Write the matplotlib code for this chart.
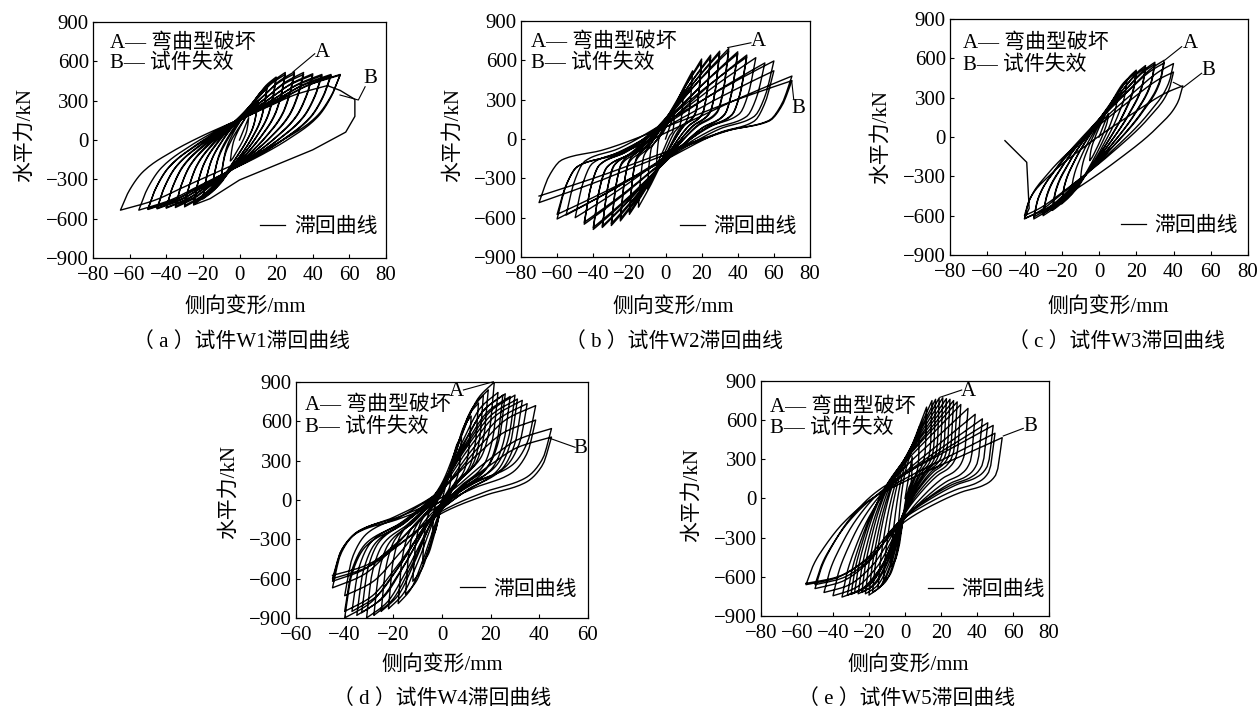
import numpy as np
import matplotlib
matplotlib.use("Agg")
import matplotlib.pyplot as plt
from matplotlib.lines import Line2D

plt.rcParams['font.family'] = ['Liberation Serif', 'Noto Sans CJK SC']
plt.rcParams['axes.unicode_minus'] = True

# ---------------- data (peak points of each cycle) ----------------
# W1
W1_pos_d = [5, 10, 10, 15, 15, 20, 20, 25, 25, 30, 30, 35, 35, 40, 40, 45, 45, 50, 50, 55, 55, 48]
W1_pos_f = [170, 300, 290, 410, 395, 480, 465, 515, 500, 520, 505, 515, 500, 505, 495, 500, 490, 500, 490, 500, 495, 415]
W1_neg_d = [-5, -10, -10, -15, -15, -20, -20, -25, -25, -30, -30, -35, -35, -40, -40, -45, -45, -50, -50, -55, -65]
W1_neg_f = [-160, -290, -280, -390, -380, -450, -440, -490, -480, -510, -500, -515, -505, -520, -515, -525, -520, -530, -525, -535, -535]
W1_tail_d = [55, 63, 63, 58, 40, 20, 0, -16, -25]
W1_tail_f = [378, 310, 180, 60, -75, -190, -305, -447, -495]

# W2
W2_pos_d = [5, 10, 15, 20, 20, 25, 25, 30, 30, 35, 35, 40, 40, 45, 45, 50, 55, 60, 60, 70, 70]
W2_pos_f = [200, 380, 520, 610, 590, 640, 625, 670, 655, 690, 670, 665, 650, 640, 625, 620, 580, 595, 520, 480, 445]
W2_neg_d = [-5, -10, -15, -20, -20, -25, -25, -30, -30, -35, -35, -40, -40, -45, -45, -50, -55, -60, -60, -70, -70]
W2_neg_f = [-200, -380, -520, -575, -560, -625, -610, -660, -645, -675, -665, -690, -675, -650, -635, -600, -580, -610, -575, -485, -435]
W2_tail_d = []
W2_tail_f = []

# W3
W3_pos_d = [5, 10, 15, 20, 20, 25, 25, 30, 30, 35, 35, 40, 40, 45]
W3_pos_f = [180, 330, 440, 510, 495, 545, 530, 570, 555, 585, 565, 560, 495, 390]
W3_neg_d = [-5, -10, -15, -20, -20, -25, -25, -30, -30, -35, -35, -40, -40, -40]
W3_neg_f = [-180, -330, -440, -510, -500, -560, -545, -600, -585, -625, -610, -625, -600, -620]
W3_tail_d = [-37.5, -38.8, -50.5]
W3_tail_f = [-545, -193, -28]

# W4
W4_pos_d = [4, 8, 12, 15, 17, 19, 21.5, 23, 25, 26, 28, 30, 31, 33, 35, 38.5, 38.5, 45, 45]
W4_pos_f = [280, 480, 640, 740, 800, 840, 900, 820, 800, 810, 790, 800, 770, 760, 735, 720, 610, 545, 480]
W4_neg_d = [-4, -8, -12, -15, -18, -22, -25, -28, -31, -33, -35, -37, -40, -40, -40, -45, -45, -45, -45]
W4_neg_f = [-280, -480, -620, -720, -790, -830, -850, -880, -900, -860, -880, -850, -900, -850, -730, -670, -620, -600, -575]
W4_tail_d = []
W4_tail_f = []

# W5
W5_pos_d = [4, 8, 12, 15, 17, 19, 21, 23, 25, 27, 29, 31, 35, 39, 43, 46, 49, 50, 54]
W5_pos_f = [320, 550, 700, 750, 760, 770, 772, 765, 760, 750, 740, 720, 690, 645, 610, 580, 560, 500, 466]
W5_neg_d = [-4, -8, -12, -15, -18, -20, -22, -24, -26, -28, -30, -32, -35, -40, -45, -50, -50, -55, -55]
W5_neg_f = [-300, -520, -640, -690, -720, -740, -730, -720, -730, -720, -735, -740, -755, -745, -720, -690, -660, -660, -650]
W5_tail_d = []
W5_tail_f = []

captions = ["（ a ）试件W1滞回曲线", "（ b ）试件W2滞回曲线", "（ c ）试件W3滞回曲线",
            "（ d ）试件W4滞回曲线", "（ e ）试件W5滞回曲线"]
xlabel = "侧向变形/mm"
ylabel = "水平力/kN"
legend_label = "滞回曲线"
note_a = "A— 弯曲型破坏"
note_b = "B— 试件失效"

# ---------------- helpers ----------------
def pchip(xk, yk, xq):
    xk = np.asarray(xk, float); yk = np.asarray(yk, float)
    h = np.diff(xk); d = np.diff(yk) / h
    m = np.zeros_like(yk)
    m[0] = d[0]; m[-1] = d[-1]
    for k in range(1, len(xk) - 1):
        if d[k - 1] * d[k] <= 0:
            m[k] = 0
        else:
            w1 = 2 * h[k] + h[k - 1]; w2 = h[k] + 2 * h[k - 1]
            m[k] = (w1 + w2) / (w1 / d[k - 1] + w2 / d[k])
    idx = np.clip(np.searchsorted(xk, xq) - 1, 0, len(h) - 1)
    t = (xq - xk[idx]) / h[idx]
    h00 = 2 * t**3 - 3 * t**2 + 1; h10 = t**3 - 2 * t**2 + t
    h01 = -2 * t**3 + 3 * t**2; h11 = t**3 - t**2
    return h00 * yk[idx] + h10 * h[idx] * m[idx] + h01 * yk[idx + 1] + h11 * h[idx] * m[idx + 1]


def hysteresis(pos_d, pos_f, neg_d, neg_f, shape_dn, shape_up, tail_d, tail_f):
    X = np.linspace(0, 1, 90)
    Yd = pchip(shape_dn[0], shape_dn[1], X)
    Yu = pchip(shape_up[0], shape_up[1], X)
    peaks = []
    for i in range(len(pos_d)):
        peaks.append((pos_d[i], pos_f[i]))
        if i < len(neg_d):
            peaks.append((neg_d[i], neg_f[i]))
    xs, ys = [0.0], [0.0]
    prev = None
    for p in peaks:
        if prev is None:
            xs.append(p[0]); ys.append(p[1])
        else:
            Y = Yd if p[1] < prev[1] else Yu
            xs.extend(prev[0] + (p[0] - prev[0]) * X[1:])
            ys.extend(prev[1] + (p[1] - prev[1]) * Y[1:])
        prev = p
    xs.extend(tail_d); ys.extend(tail_f)
    return np.array(xs), np.array(ys)


W, H = 1257, 708
fig = plt.figure(figsize=(W / 100, H / 100), dpi=100)

def px_axes(l, t, r, b):
    return fig.add_axes([l / W, 1 - b / H, (r - l) / W, (b - t) / H])

S1 = ([0, 0.04, 0.11, 0.25, 0.4, 0.55, 0.7, 0.85, 1], [0, 0.15, 0.31, 0.47, 0.6, 0.71, 0.82, 0.93, 1])
S2 = ([0, 0.04, 0.09, 0.25, 0.5, 0.75, 0.9, 1], [0, 0.22, 0.35, 0.43, 0.62, 0.82, 0.93, 1])
S3 = ([0, 0.03, 0.15, 0.4, 0.7, 0.9, 1], [0, 0.12, 0.3, 0.55, 0.8, 0.95, 1])
S4 = ([0, 0.04, 0.12, 0.3, 0.5, 0.7, 0.85, 1], [0, 0.2, 0.33, 0.42, 0.55, 0.78, 0.93, 1])
S5d = ([0, 0.03, 0.1, 0.2, 0.35, 0.5, 0.7, 0.85, 1], [0, 0.25, 0.33, 0.37, 0.46, 0.58, 0.85, 0.96, 1])
S5u = ([0, 0.04, 0.09, 0.19, 0.33, 0.5, 0.75, 1], [0, 0.14, 0.25, 0.42, 0.58, 0.7, 0.85, 1])

panels = [
    dict(box=(93, 22, 386, 258), data=(W1_pos_d, W1_pos_f, W1_neg_d, W1_neg_f, W1_tail_d, W1_tail_f),
         shape=(S1, S1), xlim=(-80, 80), notes=(0.058, 0.911, 0.826), leg=(0.97, 0.131),
         A=((45, 671), [(29.2, 519), (41.1, 658)]), B=((71.5, 469), [(54.9, 343), (64.9, 305), (68.6, 406)]),
         ylab=(25, 135), xlab=(245, 307), cap=(241, 342)),
    dict(box=(521, 21, 810, 257), data=(W2_pos_d, W2_pos_f, W2_neg_d, W2_neg_f, W2_tail_d, W2_tail_f),
         shape=(S2, S2), xlim=(-80, 80), notes=(0.035, 0.912, 0.822), leg=(0.955, 0.127),
         A=((51.4, 742), [(34.4, 697), (47.3, 734)]), B=((73.5, 229), [(69.9, 440), (71, 300)]),
         ylab=(453, 135), xlab=(673, 307), cap=(674, 342)),
    dict(box=(950, 19, 1248, 255), data=(W3_pos_d, W3_pos_f, W3_neg_d, W3_neg_f, W3_tail_d, W3_tail_f),
         shape=(S3, S3), xlim=(-80, 80), notes=(0.044, 0.898, 0.805), leg=(0.966, 0.12),
         A=((48.9, 715), [(35.4, 587), (44.4, 689)]), B=((58.8, 511), [(39.9, 417), (45.3, 379), (55.1, 486)]),
         ylab=(881, 137), xlab=(1108, 307), cap=(1117, 342)),
    dict(box=(296, 382, 588, 618), data=(W4_pos_d, W4_pos_f, W4_neg_d, W4_neg_f, W4_tail_d, W4_tail_f),
         shape=(S4, S4), xlim=(-60, 60), notes=(0.031, 0.903, 0.81), leg=(0.962, 0.119),
         A=((6.0, 826), [(8.8, 839), (21.1, 902)]), B=((56.7, 394), [(44.4, 470), (54.7, 402)]),
         ylab=(229, 492), xlab=(442, 665), cap=(442, 699)),
    dict(box=(761, 381, 1049, 616), data=(W5_pos_d, W5_pos_f, W5_neg_d, W5_neg_f, W5_tail_d, W5_tail_f),
         shape=(S5d, S5u), xlim=(-80, 80), notes=(0.031, 0.89, 0.80), leg=(0.985, 0.11),
         A=((35.2, 818), [(19.4, 775), (31.5, 831)]), B=((69.4, 550), [(54.6, 479), (65.7, 537)]),
         ylab=(692, 495), xlab=(908, 665), cap=(907, 699)),
]

FS = 15
for i, p in enumerate(panels):
    ax = px_axes(*p['box'])
    pd_, pf_, nd_, nf_, td_, tf_ = p['data']
    x, y = hysteresis(pd_, pf_, nd_, nf_, p['shape'][0], p['shape'][1], td_, tf_)
    ax.plot(x, y, color='black', lw=1.0)
    ax.set_xlim(*p['xlim']); ax.set_ylim(-900, 900)
    ax.set_xticks(np.arange(p['xlim'][0], p['xlim'][1] + 1, 20))
    ax.set_yticks(np.arange(-900, 901, 300))
    ax.tick_params(direction='in', length=3, width=0.8, labelsize=FS,
                   top=False, right=False)
    ax.tick_params(axis='x', pad=6)
    ax.tick_params(axis='y', pad=3)
    for s in ax.spines.values():
        s.set_linewidth(0.9)
    ax.text(p['notes'][0], p['notes'][1], note_a, transform=ax.transAxes, fontsize=FS,
            ha='left', va='center')
    ax.text(p['notes'][0], p['notes'][2], note_b, transform=ax.transAxes, fontsize=FS,
            ha='left', va='center')
    h = Line2D([], [], color='black', lw=0.9)
    ax.legend([h], [legend_label], loc='center right', bbox_to_anchor=(p['leg'][0], p['leg'][1]),
              frameon=False, fontsize=FS, handlelength=1.2, handletextpad=0.4,
              borderpad=0, borderaxespad=0)
    (ax_, ay_), la = p['A']
    ax.text(ax_, ay_, 'A', fontsize=FS, ha='center', va='center', clip_on=False)
    ax.plot([q[0] for q in la], [q[1] for q in la], color='black', lw=0.8, clip_on=False)
    (bx_, by_), lb = p['B']
    ax.text(bx_, by_, 'B', fontsize=FS, ha='center', va='center', clip_on=False)
    ax.plot([q[0] for q in lb], [q[1] for q in lb], color='black', lw=0.8, clip_on=False)
    fig.text(p['ylab'][0] / W, 1 - p['ylab'][1] / H, ylabel, rotation=90, fontsize=FS,
             ha='center', va='center')
    fig.text(p['xlab'][0] / W, 1 - p['xlab'][1] / H, xlabel, fontsize=FS, ha='center', va='center')
    fig.text(p['cap'][0] / W, 1 - p['cap'][1] / H, captions[i], fontsize=FS, ha='center', va='center')

fig.savefig('out.png', dpi=100)
